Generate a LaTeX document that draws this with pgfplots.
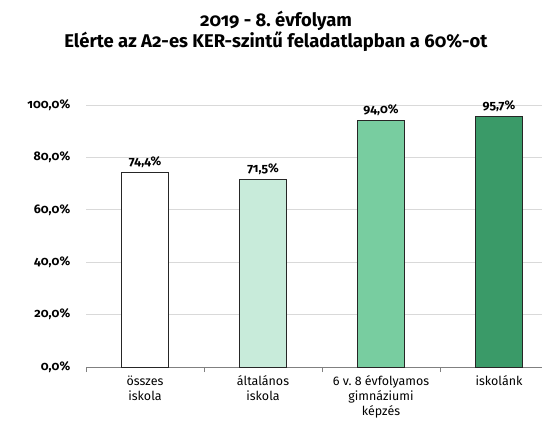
\documentclass[border=0pt]{standalone}
\usepackage{fontspec}
\setmainfont{Fira Sans}[Numbers=OldStyle]
\usepackage{pgfplots}
\pgfplotsset{compat=1.18}
\definecolor{g1}{RGB}{200,235,218}
\definecolor{g2}{RGB}{120,205,160}
\definecolor{g3}{RGB}{58,154,104}
\definecolor{gridc}{RGB}{217,217,217}
\definecolor{axc}{RGB}{128,128,128}
\frenchspacing
\begin{document}
\begin{tikzpicture}
\useasboundingbox (0,0) rectangle (542bp,424bp);
\begin{axis}[
  at={(86bp,57bp)}, anchor=south west,
  scale only axis, width=456bp, height=262bp,
  xmin=-0.5, xmax=3.3644, ymin=0, ymax=100,
  clip=false,
  axis x line*=bottom, axis y line*=left,
  y axis line style={draw=none},
  x axis line style={draw=axc, line width=1pt},
  ytick={0,20,40,60,80,100},
  ymajorgrids, grid style={draw=gridc, line width=0.8pt},
  major y tick style={draw=none},
  xtick={0,1,2,3},
  xticklabels={összes\\iskola, általános\\iskola, 6 v. 8 évfolyamos\\gimnáziumi\\képzés, iskolánk},
  major x tick style={draw=none},
  minor xtick={-0.5,0.5,1.5,2.5},
  minor x tick style={draw=axc, line width=1pt},
  minor tick length=5bp,
  tick align=outside,
  x tick label style={align=center, font=\fontsize{12.5}{15}\selectfont, anchor=north, yshift=-1bp},
  y tick label style={font=\bfseries\fontsize{12.5}{14}\selectfont, xshift=-8bp},
  /pgf/number format/.cd, fixed, fixed zerofill, precision=1, use comma, assume math mode=true,
  /pgfplots/.cd,
  yticklabel={\pgfmathprintnumber{\tick}\%},
  ybar, bar width=47bp, bar shift=0pt,
  nodes near coords={\pgfmathprintnumber{\pgfplotspointmeta}\%},
  every node near coord/.append style={font=\bfseries\fontsize{12.5}{14}\selectfont, yshift=1bp},
]
\addplot[fill=white, draw=black!85, line width=0.8pt] coordinates {(0,74.4)};
\addplot[fill=g1, draw=black!85, line width=0.8pt] coordinates {(1,71.5)};
\addplot[fill=g2, draw=black!85, line width=0.8pt] coordinates {(2,94.0)};
\addplot[fill=g3, draw=black!85, line width=0.8pt] coordinates {(3,95.7)};
\end{axis}
\node[anchor=base, font=\bfseries\fontsize{18.5}{21}\selectfont] at (276bp,397bp) {2019 - 8. évfolyam};
\node[anchor=base, font=\bfseries\fontsize{18.5}{21}\selectfont] at (276bp,376bp) {Elérte az A2-es KER-szintű feladatlapban a 60\%-ot};
\end{tikzpicture}
\end{document}
